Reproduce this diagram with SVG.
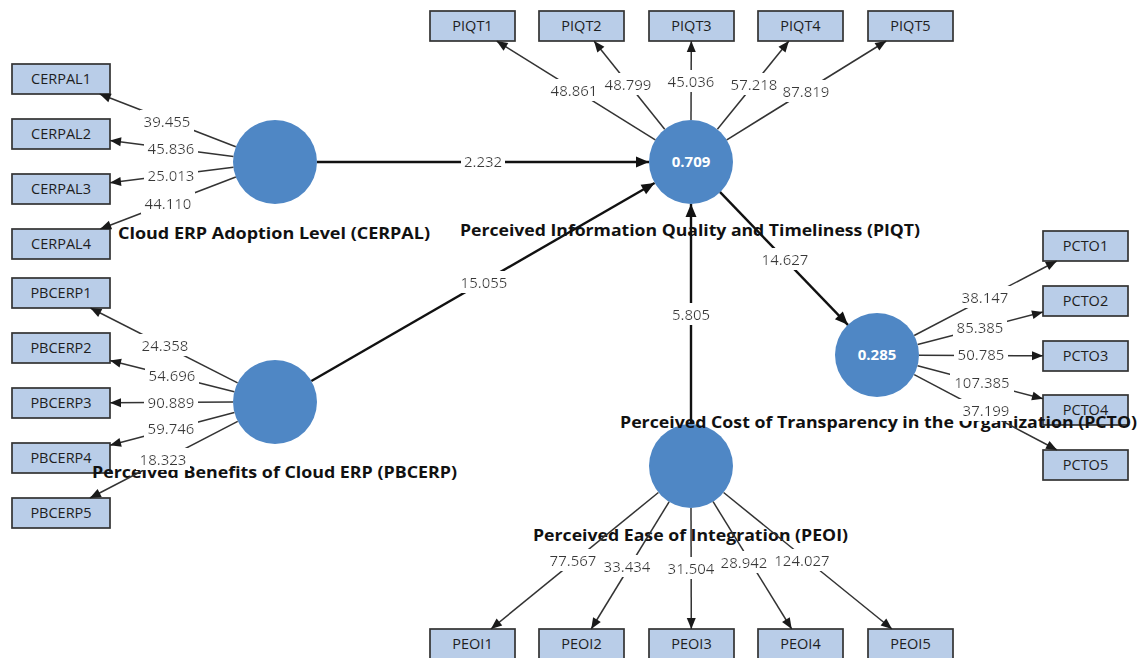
<svg xmlns="http://www.w3.org/2000/svg" width="1140" height="658" viewBox="0 0 1140 658">
<style>
.ind rect{fill:#b9cde8;stroke:#333;stroke-width:1.7}
.ind text{font-family:"Open Sans","Liberation Sans",sans-serif;font-size:14.5px;fill:#1e1e1e;text-anchor:middle}
.lv circle{fill:#4f87c5}
.lv .val{font-family:"Open Sans","Liberation Sans",sans-serif;font-size:15px;font-weight:bold;fill:#fff;text-anchor:middle}
.lv .ttl{font-family:"Open Sans","Liberation Sans",sans-serif;font-size:16px;font-weight:bold;fill:#111}
.m{stroke:#333;stroke-width:1.5;fill:none;marker-end:url(#am)}
.s{stroke:#111;stroke-width:2.4;fill:none;marker-end:url(#as)}
.lb{font-family:"Open Sans","Liberation Sans",sans-serif;font-size:15px;fill:#383838;text-anchor:middle;filter:url(#bg)}
</style>
<defs>
<marker id="am" markerUnits="userSpaceOnUse" markerWidth="12" markerHeight="10" refX="11" refY="4.5" orient="auto" overflow="visible"><path d="M0,0 L11,4.5 L0,9 z" fill="#1a1a1a"/></marker>
<marker id="as" markerUnits="userSpaceOnUse" markerWidth="14" markerHeight="12" refX="13" refY="5.5" orient="auto" overflow="visible"><path d="M0,0 L13,5.5 L0,11 z" fill="#111"/></marker>
<filter id="bg" x="-0.06" y="-0.02" width="1.12" height="1.04"><feFlood flood-color="#fff" result="f"/><feComposite in="SourceGraphic" in2="f" operator="over"/></filter>
</defs>
<rect width="1140" height="658" fill="#fff"/>

<!-- indicators -->
<g id="CERPAL1" class="ind"><rect x="12" y="64" width="98" height="30"/><text x="61" y="84">CERPAL1</text></g>
<g id="CERPAL2" class="ind"><rect x="12" y="119" width="98" height="30"/><text x="61" y="139">CERPAL2</text></g>
<g id="CERPAL3" class="ind"><rect x="12" y="174" width="98" height="30"/><text x="61" y="194">CERPAL3</text></g>
<g id="CERPAL4" class="ind"><rect x="12" y="229" width="98" height="30"/><text x="61" y="249">CERPAL4</text></g>
<g id="PBCERP1" class="ind"><rect x="12" y="278" width="98" height="30"/><text x="61" y="298">PBCERP1</text></g>
<g id="PBCERP2" class="ind"><rect x="12" y="333" width="98" height="30"/><text x="61" y="353">PBCERP2</text></g>
<g id="PBCERP3" class="ind"><rect x="12" y="388" width="98" height="30"/><text x="61" y="408">PBCERP3</text></g>
<g id="PBCERP4" class="ind"><rect x="12" y="443" width="98" height="30"/><text x="61" y="463">PBCERP4</text></g>
<g id="PBCERP5" class="ind"><rect x="12" y="498" width="98" height="30"/><text x="61" y="518">PBCERP5</text></g>
<g id="PIQT1" class="ind"><rect x="430" y="11" width="85" height="30"/><text x="472.5" y="31">PIQT1</text></g>
<g id="PIQT2" class="ind"><rect x="539" y="11" width="85" height="30"/><text x="581.5" y="31">PIQT2</text></g>
<g id="PIQT3" class="ind"><rect x="649" y="11" width="85" height="30"/><text x="691.5" y="31">PIQT3</text></g>
<g id="PIQT4" class="ind"><rect x="758" y="11" width="85" height="30"/><text x="800.5" y="31">PIQT4</text></g>
<g id="PIQT5" class="ind"><rect x="868" y="11" width="85" height="30"/><text x="910.5" y="31">PIQT5</text></g>
<g id="PCTO1" class="ind"><rect x="1043" y="231" width="85" height="30"/><text x="1085.5" y="251">PCTO1</text></g>
<g id="PCTO2" class="ind"><rect x="1043" y="286" width="85" height="30"/><text x="1085.5" y="306">PCTO2</text></g>
<g id="PCTO3" class="ind"><rect x="1043" y="341" width="85" height="30"/><text x="1085.5" y="361">PCTO3</text></g>
<g id="PCTO4" class="ind"><rect x="1043" y="395" width="85" height="30"/><text x="1085.5" y="415">PCTO4</text></g>
<g id="PCTO5" class="ind"><rect x="1043" y="450" width="85" height="30"/><text x="1085.5" y="470">PCTO5</text></g>
<g id="PEOI1" class="ind"><rect x="430" y="629" width="85" height="30"/><text x="472.5" y="649">PEOI1</text></g>
<g id="PEOI2" class="ind"><rect x="539" y="629" width="85" height="30"/><text x="581.5" y="649">PEOI2</text></g>
<g id="PEOI3" class="ind"><rect x="649" y="629" width="85" height="30"/><text x="691.5" y="649">PEOI3</text></g>
<g id="PEOI4" class="ind"><rect x="758" y="629" width="85" height="30"/><text x="800.5" y="649">PEOI4</text></g>
<g id="PEOI5" class="ind"><rect x="868" y="629" width="85" height="30"/><text x="910.5" y="649">PEOI5</text></g>

<!-- latent variables -->
<g id="CERPAL" class="lv"><circle cx="275" cy="162" r="42"/><text class="ttl" x="118" y="239" textLength="312" lengthAdjust="spacingAndGlyphs">Cloud ERP Adoption Level (CERPAL)</text></g>
<g id="PBCERP" class="lv"><circle cx="275" cy="402" r="42"/><text class="ttl" x="92" y="478" textLength="365" lengthAdjust="spacingAndGlyphs">Perceived Benefits of Cloud ERP (PBCERP)</text></g>
<g id="PIQT" class="lv"><circle cx="691" cy="162" r="42"/><text class="val" x="691" y="167">0.709</text><text class="ttl" x="460" y="236" textLength="460" lengthAdjust="spacingAndGlyphs">Perceived Information Quality and Timeliness (PIQT)</text></g>
<g id="PEOI" class="lv"><circle cx="691" cy="466" r="42"/><text class="ttl" x="533" y="541" textLength="315" lengthAdjust="spacingAndGlyphs">Perceived Ease of Integration (PEOI)</text></g>
<g id="PCTO" class="lv"><circle cx="877" cy="355" r="42"/><text class="val" x="877" y="360">0.285</text><text class="ttl" x="620" y="428" textLength="517" lengthAdjust="spacingAndGlyphs">Perceived Cost of Transparency in the Organization (PCTO)</text></g>

<!-- connectors -->
<g id="connectors">
<line class="m" x1="235.8" y1="146.8" x2="99.7" y2="94"/>
<line class="m" x1="233.4" y1="156.6" x2="110" y2="140.4"/>
<line class="m" x1="233.4" y1="167.3" x2="110" y2="182.8"/>
<line class="m" x1="235.8" y1="177" x2="100.2" y2="229"/>
<line class="m" x1="237.6" y1="382.9" x2="90.4" y2="308"/>
<line class="m" x1="234.3" y1="391.7" x2="110" y2="360.4"/>
<line class="m" x1="233" y1="402" x2="110" y2="402.8"/>
<line class="m" x1="234.4" y1="412.6" x2="110" y2="445.2"/>
<line class="m" x1="237.7" y1="421.3" x2="89.9" y2="498"/>
<line class="m" x1="655.3" y1="139.8" x2="496.6" y2="41"/>
<line class="m" x1="664.7" y1="129.2" x2="594" y2="41"/>
<line class="m" x1="691" y1="120" x2="691.3" y2="41"/>
<line class="m" x1="717.4" y1="129.3" x2="788.9" y2="41"/>
<line class="m" x1="726.8" y1="139.8" x2="886.3" y2="41"/>
<line class="m" x1="658.4" y1="492.5" x2="490.9" y2="629"/>
<line class="m" x1="669.1" y1="501.8" x2="591.2" y2="629"/>
<line class="m" x1="691" y1="508" x2="691.3" y2="629"/>
<line class="m" x1="713.1" y1="501.7" x2="791.7" y2="629"/>
<line class="m" x1="723.6" y1="492.5" x2="892" y2="629"/>
<line class="m" x1="914.2" y1="335.5" x2="1056.8" y2="261"/>
<line class="m" x1="917.7" y1="344.5" x2="1043" y2="312"/>
<line class="m" x1="919" y1="355.2" x2="1043" y2="355.8"/>
<line class="m" x1="917.6" y1="365.7" x2="1043" y2="398.8"/>
<line class="m" x1="914.2" y1="374.6" x2="1057.1" y2="450"/>
<line class="s" x1="317" y1="162" x2="649" y2="162"/>
<line class="s" x1="311.4" y1="381" x2="654.6" y2="183"/>
<line class="s" x1="691" y1="424" x2="691" y2="204"/>
<line class="s" x1="720.1" y1="192.2" x2="847.9" y2="324.8"/>
<text class="lb" x="167" y="127">39.455</text>
<text class="lb" x="171" y="154">45.836</text>
<text class="lb" x="171" y="181">25.013</text>
<text class="lb" x="168" y="209">44.110</text>
<text class="lb" x="165" y="351">24.358</text>
<text class="lb" x="172" y="381">54.696</text>
<text class="lb" x="171" y="408">90.889</text>
<text class="lb" x="171" y="434">59.746</text>
<text class="lb" x="163" y="465">18.323</text>
<text class="lb" x="574" y="96">48.861</text>
<text class="lb" x="628" y="90">48.799</text>
<text class="lb" x="691" y="87">45.036</text>
<text class="lb" x="754" y="90">57.218</text>
<text class="lb" x="806" y="97">87.819</text>
<text class="lb" x="573" y="566">77.567</text>
<text class="lb" x="627" y="572">33.434</text>
<text class="lb" x="691" y="574">31.504</text>
<text class="lb" x="744" y="568">28.942</text>
<text class="lb" x="802" y="566">124.027</text>
<text class="lb" x="985" y="303">38.147</text>
<text class="lb" x="980" y="333">85.385</text>
<text class="lb" x="981" y="360">50.785</text>
<text class="lb" x="982" y="388">107.385</text>
<text class="lb" x="986" y="416">37.199</text>
<text class="lb" x="483" y="167">2.232</text>
<text class="lb" x="484" y="288">15.055</text>
<text class="lb" x="691" y="320">5.805</text>
<text class="lb" x="785" y="265">14.627</text>
</g>
</svg>
